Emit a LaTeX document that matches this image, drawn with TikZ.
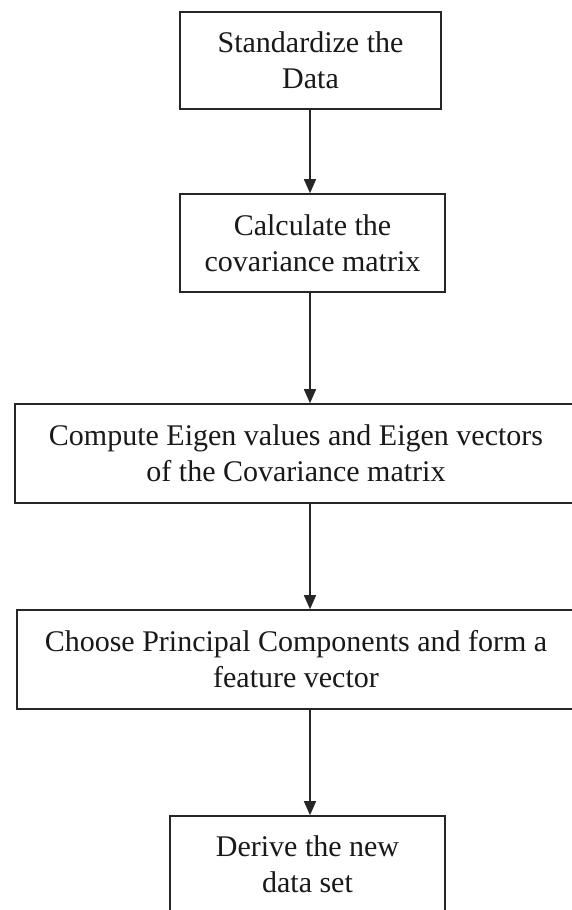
\documentclass[tikz,border=0pt]{standalone}
\usepackage{fontspec}
\setmainfont{Liberation Serif}
\usetikzlibrary{arrows.meta}
\begin{document}
\begin{tikzpicture}[x=1pt,y=-1pt,
  box/.style={draw=black!85, line width=1.6pt, rectangle, inner sep=0pt, align=center,
    font=\fontsize{30}{36}\selectfont, text=black!90},
  flow/.style={line width=1.5pt, draw=black!85, -{Triangle[width=12pt,length=14pt]}}]
\useasboundingbox (0,0) rectangle (572,910);
\clip (0,0) rectangle (572,910);
\fill[white] (0,0) rectangle (572,910);
\node[box, minimum width=261pt, minimum height=97pt] (b1) at (310.5,60.5) {Standardize the\\Data};
\node[box, minimum width=265pt, minimum height=98pt] (b2) at (312.5,243) {Calculate the\\covariance matrix};
\node[box, minimum width=562pt, minimum height=99pt] (b3) at (296,453.5) {Compute Eigen values and Eigen vectors\\of the Covariance matrix};
\node[box, minimum width=558pt, minimum height=99pt] (b4) at (296,659.5) {Choose Principal Components and form a\\feature vector};
\node[box, minimum width=275pt, minimum height=97pt] (b5) at (307.5,864.5) {Derive the new\\data set};
\coordinate (ax) at (310,0);
\draw[flow] (b1.south -| ax) -- (b2.north -| ax);
\draw[flow] (b2.south -| ax) -- (b3.north -| ax);
\draw[flow] (b3.south -| ax) -- (b4.north -| ax);
\draw[flow] (b4.south -| ax) -- (b5.north -| ax);
\end{tikzpicture}
\end{document}
